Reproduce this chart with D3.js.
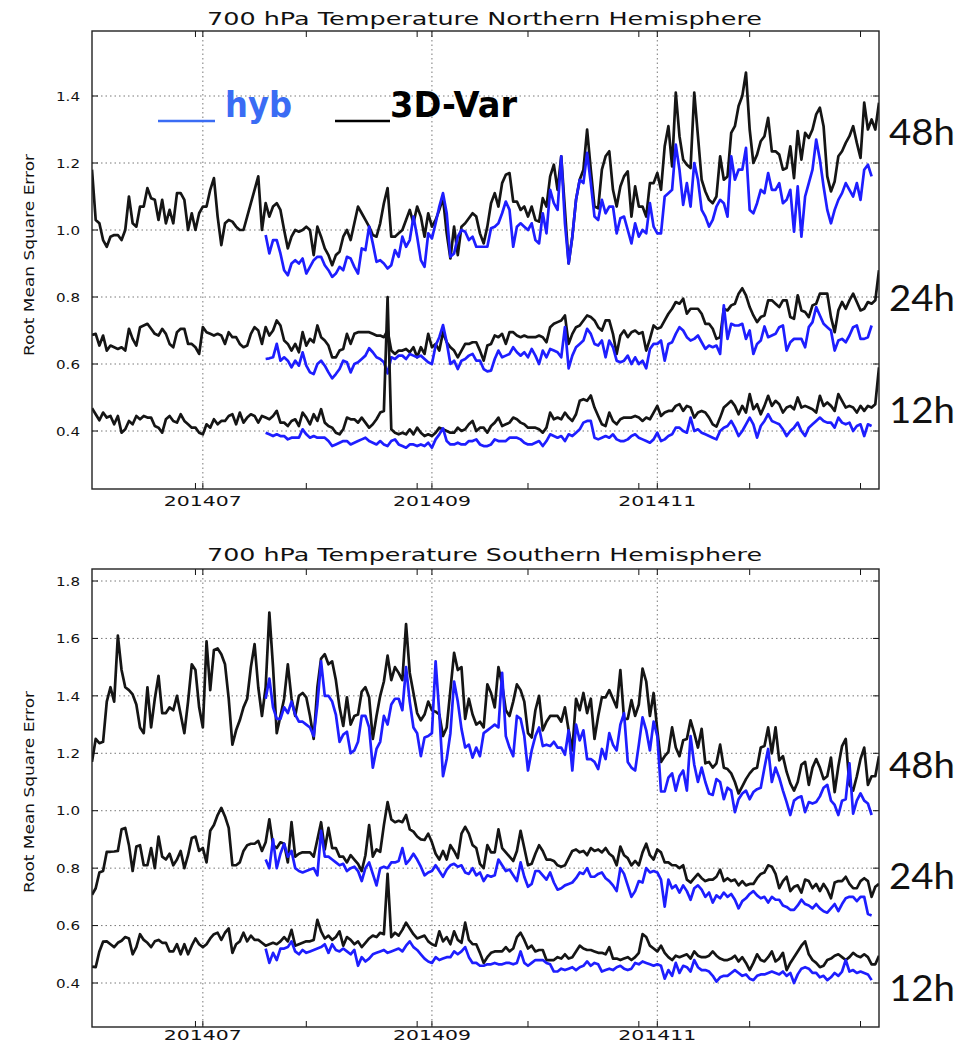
<!DOCTYPE html>
<html><head><meta charset="utf-8">
<script src="https://cdn.jsdelivr.net/npm/d3@7"></script>
<style>body{margin:0;background:#fff}svg{display:block}</style>
</head><body>
<svg id="c" width="957" height="1044"></svg>
<script>
// ---------------- DATA ----------------
const startDate = "2014-06-01";   // first day of 3D-Var series
const hybStartDate = "2014-07-18"; // first day of hyb series
const xTickDates = ["2014-07-01","2014-09-01","2014-11-01"];
const xTickLabels = ["201407","201409","201411"];
const minorTickStart = "2014-06-29", minorTickStepDays = 30, minorTickCount = 7;
const nhYTicks = [0.4,0.6,0.8,1.0,1.2,1.4];
const shYTicks = [0.4,0.6,0.8,1.0,1.2,1.4,1.6,1.8];
const leadLabels = ["48h","24h","12h"];

const nh48_3dvar = [
1.18,1.03,1.02,0.97,0.95,0.98,0.985,0.985,0.97,1.00,
1.10,1.02,1.01,1.07,1.07,1.125,1.095,1.09,1.03,1.09,
1.02,1.06,1.02,1.11,1.11,1.09,1.00,1.05,1.00,1.05,
1.07,1.07,1.12,1.155,1.04,0.955,1.02,1.03,1.025,1.01,
1.00,1.00,1.04,1.08,1.12,1.16,1.00,1.08,1.04,1.07,
1.08,1.06,1.00,0.945,0.98,1.00,0.995,1.0,1.01,1.0,
0.925,1.01,0.98,0.945,0.925,0.895,0.925,0.935,0.98,1.0,
0.97,1.02,1.07,1.05,1.03,1.01,0.985,0.98,1.02,1.08,
1.125,0.98,0.98,0.99,1.0,1.03,1.06,1.02,1.07,1.04,
0.98,1.05,1.01,1.03,1.06,1.095,0.99,0.915,1.01,0.925,
1.01,1.02,1.035,1.05,1.04,0.99,0.96,1.01,1.08,1.11,
1.07,1.14,1.165,1.17,1.085,1.085,1.06,1.07,1.04,1.07,
1.03,1.025,1.095,1.07,1.16,1.195,1.12,1.22,1.06,0.90,
0.98,1.09,1.15,1.18,1.30,1.18,1.07,1.065,1.18,1.22,
1.235,1.12,1.07,1.13,1.16,1.175,1.04,1.13,1.07,1.07,
1.04,1.14,1.14,1.17,1.12,1.25,1.31,1.19,1.41,1.28,
1.21,1.195,1.185,1.41,1.28,1.15,1.115,1.09,1.08,1.10,
1.22,1.15,1.16,1.29,1.31,1.37,1.40,1.47,1.30,1.20,
1.225,1.265,1.28,1.335,1.235,1.235,1.225,1.18,1.185,1.25,
1.155,1.295,1.21,1.29,1.275,1.3,1.345,1.365,1.31,1.16,
1.115,1.145,1.22,1.235,1.26,1.28,1.31,1.26,1.215,1.38,
1.30,1.33,1.30,1.38];
const nh48_hyb = [
0.985,0.93,0.97,
0.97,0.93,0.88,0.865,0.9,0.91,0.9,0.915,0.87,0.89,
0.91,0.92,0.92,0.895,0.88,0.86,0.87,0.89,0.88,0.92,
0.915,0.89,0.87,0.945,0.94,1.01,0.96,0.905,0.91,0.9,
0.885,0.895,0.94,0.92,0.98,0.95,0.97,1.04,0.98,0.91,
0.89,0.99,0.975,1.02,1.07,1.11,1.05,0.92,0.93,0.98,
1.0,0.995,0.97,0.98,0.95,0.95,0.95,0.95,1.005,1.01,
1.02,1.05,1.085,1.06,0.95,1.01,1.02,1.01,1.0,1.02,
0.97,0.96,1.05,0.99,1.12,1.08,1.06,1.22,1.02,0.90,
0.98,1.09,1.15,1.14,1.23,1.14,1.04,1.03,1.09,1.05,
1.07,1.07,0.99,1.035,1.04,1.0,0.96,1.02,0.98,1.0,
0.99,1.08,1.01,0.99,0.99,1.1,1.11,1.12,1.255,1.18,
1.075,1.14,1.07,1.2,1.15,1.06,1.04,1.01,1.03,1.07,
1.09,1.08,1.04,1.22,1.15,1.18,1.18,1.245,1.06,1.05,
1.08,1.12,1.11,1.17,1.12,1.12,1.14,1.08,1.09,1.12,
0.995,1.13,0.98,1.1,1.14,1.18,1.27,1.21,1.13,1.06,
1.02,1.06,1.09,1.11,1.14,1.12,1.10,1.14,1.09,1.18,
1.195,1.16];
const nh24_3dvar = [
0.687,0.69,0.655,0.685,0.64,0.655,0.65,0.645,0.65,0.64,
0.705,0.675,0.655,0.71,0.715,0.72,0.705,0.69,0.685,0.705,
0.69,0.66,0.65,0.695,0.705,0.705,0.66,0.66,0.65,0.63,
0.71,0.695,0.69,0.685,0.69,0.685,0.66,0.695,0.68,0.68,
0.66,0.65,0.655,0.69,0.71,0.70,0.66,0.71,0.685,0.70,
0.73,0.715,0.67,0.66,0.64,0.66,0.635,0.695,0.655,0.675,
0.665,0.715,0.68,0.67,0.655,0.62,0.62,0.64,0.645,0.69,
0.66,0.69,0.695,0.695,0.695,0.695,0.69,0.685,0.685,0.68,
0.70,0.64,0.63,0.64,0.64,0.645,0.635,0.65,0.62,0.65,
0.63,0.69,0.65,0.66,0.64,0.695,0.665,0.65,0.64,0.62,
0.64,0.66,0.66,0.665,0.665,0.64,0.61,0.655,0.66,0.685,
0.68,0.69,0.66,0.695,0.695,0.685,0.68,0.685,0.68,0.68,
0.68,0.685,0.68,0.665,0.71,0.72,0.725,0.73,0.745,0.66,
0.69,0.71,0.715,0.73,0.745,0.74,0.73,0.71,0.70,0.73,
0.73,0.69,0.63,0.685,0.70,0.68,0.695,0.70,0.69,0.695,
0.64,0.675,0.715,0.705,0.71,0.73,0.75,0.765,0.785,0.78,
0.795,0.75,0.765,0.765,0.765,0.75,0.72,0.72,0.705,0.675,
0.68,0.765,0.76,0.775,0.78,0.81,0.826,0.805,0.77,0.745,
0.725,0.74,0.745,0.79,0.79,0.78,0.77,0.79,0.79,0.74,
0.735,0.805,0.76,0.755,0.74,0.775,0.78,0.81,0.81,0.81,
0.74,0.695,0.76,0.785,0.765,0.79,0.81,0.785,0.76,0.765,
0.785,0.78,0.79,0.88];
const nh24_hyb = [
0.615,0.617,0.62,
0.66,0.61,0.62,0.61,0.59,0.61,0.595,0.635,0.595,0.575,
0.57,0.6,0.61,0.595,0.575,0.557,0.57,0.585,0.61,0.605,
0.575,0.6,0.605,0.615,0.625,0.647,0.635,0.62,0.615,0.605,
0.572,0.62,0.615,0.625,0.625,0.615,0.63,0.625,0.62,0.625,
0.615,0.605,0.6,0.655,0.68,0.716,0.665,0.6,0.61,0.585,
0.61,0.615,0.625,0.63,0.61,0.61,0.585,0.578,0.58,0.615,
0.64,0.62,0.625,0.63,0.65,0.635,0.625,0.635,0.62,0.645,
0.625,0.60,0.64,0.62,0.645,0.64,0.635,0.62,0.71,0.587,
0.625,0.65,0.66,0.67,0.705,0.69,0.66,0.655,0.67,0.62,
0.67,0.65,0.61,0.605,0.61,0.625,0.60,0.62,0.60,0.61,
0.587,0.645,0.66,0.66,0.67,0.61,0.66,0.665,0.69,0.71,
0.70,0.68,0.67,0.675,0.685,0.665,0.645,0.655,0.65,0.655,
0.63,0.775,0.675,0.72,0.715,0.715,0.72,0.675,0.70,0.63,
0.66,0.67,0.712,0.68,0.685,0.69,0.71,0.715,0.64,0.665,
0.675,0.675,0.675,0.65,0.71,0.725,0.77,0.745,0.72,0.71,
0.70,0.64,0.67,0.675,0.665,0.685,0.71,0.715,0.675,0.675,
0.68,0.715];
const nh12_3dvar = [
0.468,0.45,0.432,0.455,0.44,0.445,0.42,0.445,0.395,0.405,
0.43,0.42,0.445,0.435,0.445,0.44,0.44,0.415,0.41,0.395,
0.435,0.445,0.43,0.425,0.45,0.43,0.42,0.41,0.41,0.395,
0.39,0.42,0.41,0.435,0.42,0.43,0.43,0.445,0.45,0.42,
0.455,0.425,0.44,0.45,0.445,0.425,0.445,0.44,0.435,0.445,
0.46,0.425,0.425,0.415,0.43,0.435,0.415,0.455,0.44,0.42,
0.45,0.43,0.465,0.425,0.415,0.41,0.395,0.39,0.405,0.44,
0.435,0.435,0.425,0.44,0.425,0.41,0.42,0.435,0.455,0.46,
0.80,0.405,0.395,0.39,0.395,0.39,0.405,0.39,0.41,0.395,
0.385,0.39,0.385,0.395,0.41,0.405,0.40,0.395,0.395,0.41,
0.40,0.405,0.42,0.43,0.40,0.41,0.41,0.395,0.415,0.425,
0.44,0.415,0.42,0.425,0.44,0.435,0.425,0.42,0.41,0.41,
0.41,0.405,0.395,0.41,0.455,0.435,0.44,0.435,0.455,0.44,
0.43,0.45,0.49,0.495,0.49,0.506,0.47,0.445,0.42,0.415,
0.455,0.43,0.42,0.435,0.44,0.44,0.44,0.445,0.44,0.43,
0.44,0.435,0.455,0.475,0.445,0.455,0.46,0.46,0.475,0.48,
0.46,0.475,0.47,0.44,0.455,0.46,0.455,0.44,0.42,0.413,
0.44,0.47,0.48,0.49,0.475,0.45,0.475,0.455,0.51,0.465,
0.48,0.45,0.475,0.505,0.475,0.49,0.48,0.455,0.47,0.475,
0.465,0.50,0.47,0.475,0.47,0.465,0.455,0.505,0.475,0.485,
0.475,0.46,0.51,0.49,0.47,0.475,0.47,0.455,0.475,0.46,
0.475,0.47,0.48,0.59];
const nh12_hyb = [
0.395,0.39,0.385,
0.39,0.385,0.385,0.375,0.38,0.38,0.38,0.405,0.39,0.38,
0.385,0.38,0.38,0.38,0.37,0.355,0.36,0.365,0.37,0.37,
0.36,0.365,0.37,0.375,0.38,0.37,0.365,0.36,0.37,0.36,
0.355,0.37,0.375,0.36,0.355,0.35,0.36,0.36,0.355,0.36,
0.355,0.365,0.35,0.375,0.39,0.408,0.37,0.36,0.36,0.365,
0.36,0.36,0.37,0.37,0.375,0.36,0.355,0.355,0.36,0.375,
0.37,0.37,0.37,0.38,0.38,0.38,0.375,0.365,0.36,0.36,
0.365,0.37,0.355,0.37,0.39,0.385,0.38,0.385,0.37,0.39,
0.385,0.395,0.405,0.425,0.43,0.43,0.38,0.375,0.38,0.385,
0.38,0.39,0.375,0.37,0.37,0.375,0.385,0.39,0.38,0.375,
0.37,0.365,0.375,0.395,0.37,0.375,0.385,0.39,0.41,0.41,
0.40,0.395,0.44,0.40,0.405,0.395,0.39,0.385,0.38,0.375,
0.40,0.41,0.415,0.43,0.41,0.385,0.40,0.42,0.44,0.42,
0.38,0.415,0.43,0.45,0.43,0.425,0.42,0.405,0.385,0.40,
0.41,0.425,0.40,0.385,0.41,0.42,0.43,0.44,0.43,0.425,
0.425,0.41,0.44,0.425,0.42,0.425,0.40,0.415,0.42,0.385,
0.42,0.415];

const sh48_3dvar = [
1.17,1.25,1.235,1.24,1.38,1.43,1.38,1.61,1.49,1.43,
1.42,1.405,1.37,1.29,1.27,1.43,1.29,1.39,1.47,1.34,
1.34,1.36,1.35,1.40,1.335,1.27,1.38,1.51,1.49,1.36,
1.29,1.59,1.42,1.56,1.565,1.545,1.51,1.39,1.23,1.28,
1.315,1.36,1.39,1.50,1.58,1.43,1.33,1.43,1.69,1.50,
1.27,1.33,1.39,1.51,1.39,1.33,1.40,1.41,1.395,1.33,
1.25,1.43,1.53,1.545,1.51,1.52,1.455,1.36,1.295,1.395,
1.30,1.33,1.335,1.415,1.43,1.395,1.25,1.33,1.40,1.45,
1.54,1.455,1.50,1.48,1.455,1.65,1.48,1.41,1.34,1.315,
1.335,1.38,1.35,1.345,1.335,1.26,1.29,1.42,1.55,1.49,
1.50,1.32,1.39,1.335,1.30,1.31,1.29,1.44,1.41,1.36,
1.50,1.44,1.35,1.33,1.38,1.44,1.42,1.38,1.27,1.255,
1.35,1.40,1.28,1.31,1.33,1.33,1.33,1.31,1.36,1.28,
1.21,1.39,1.35,1.41,1.34,1.39,1.25,1.33,1.395,1.395,
1.42,1.39,1.36,1.49,1.32,1.32,1.385,1.33,1.37,1.495,
1.45,1.33,1.41,1.28,1.17,1.19,1.205,1.29,1.22,1.19,
1.245,1.25,1.315,1.27,1.22,1.285,1.165,1.17,1.15,1.165,
1.23,1.15,1.145,1.13,1.10,1.06,1.085,1.11,1.13,1.145,
1.15,1.22,1.225,1.29,1.20,1.29,1.175,1.19,1.135,1.095,
1.07,1.10,1.16,1.17,1.09,1.15,1.18,1.15,1.11,1.12,
1.185,1.065,1.155,1.225,1.25,1.09,1.07,1.12,1.18,1.22,
1.09,1.12,1.12,1.19];
const sh48_hyb = [
1.39,1.46,1.36,
1.32,1.32,1.36,1.34,1.38,1.335,1.31,1.31,1.30,1.29,
1.26,1.37,1.52,1.40,1.40,1.38,1.335,1.24,1.265,1.275,
1.20,1.21,1.24,1.33,1.33,1.29,1.15,1.215,1.24,1.33,
1.30,1.37,1.39,1.39,1.35,1.50,1.38,1.29,1.27,1.19,
1.255,1.26,1.27,1.52,1.34,1.12,1.18,1.27,1.45,1.38,
1.285,1.22,1.23,1.185,1.22,1.19,1.27,1.28,1.29,1.30,
1.29,1.48,1.26,1.22,1.19,1.33,1.32,1.26,1.14,1.21,
1.26,1.29,1.225,1.23,1.225,1.24,1.22,1.22,1.195,1.28,
1.14,1.30,1.245,1.28,1.18,1.18,1.17,1.145,1.215,1.18,
1.27,1.23,1.21,1.30,1.34,1.17,1.15,1.14,1.23,1.325,
1.28,1.21,1.31,1.26,1.067,1.067,1.115,1.13,1.07,1.12,
1.14,1.07,1.26,1.16,1.10,1.15,1.10,1.06,1.055,1.11,
1.10,1.04,1.08,1.07,0.995,1.04,1.06,1.07,1.04,1.065,
1.075,1.08,1.15,1.215,1.10,1.15,1.115,1.07,1.03,0.985,
1.035,1.045,1.05,0.995,1.03,1.025,1.03,1.05,1.08,1.09,
1.035,1.02,0.985,1.035,1.04,1.165,0.99,1.035,1.06,1.035,
1.025,0.985];
const sh24_3dvar = [
0.707,0.73,0.785,0.79,0.857,0.857,0.858,0.86,0.935,0.94,
0.88,0.79,0.875,0.88,0.81,0.81,0.87,0.80,0.91,0.84,
0.83,0.85,0.81,0.83,0.86,0.80,0.845,0.905,0.91,0.86,
0.87,0.82,0.93,0.95,0.985,1.01,0.98,0.94,0.81,0.81,
0.82,0.86,0.88,0.885,0.885,0.895,0.86,0.89,0.97,0.88,
0.87,0.89,0.885,0.82,0.96,0.84,0.85,0.855,0.855,0.855,
0.84,0.90,0.96,0.865,0.94,0.87,0.87,0.84,0.84,0.82,
0.845,0.83,0.815,0.79,0.845,0.95,0.84,0.865,0.857,0.95,
1.03,0.97,0.96,0.965,0.96,0.985,0.935,0.927,0.91,0.90,
0.898,0.92,0.89,0.85,0.83,0.86,0.83,0.88,0.86,0.835,
0.92,0.944,0.92,0.88,0.87,0.815,0.80,0.88,0.855,0.855,
0.935,0.87,0.855,0.84,0.825,0.86,0.93,0.87,0.81,0.815,
0.85,0.88,0.86,0.83,0.83,0.825,0.81,0.805,0.81,0.835,
0.86,0.865,0.855,0.86,0.845,0.87,0.86,0.865,0.855,0.87,
0.85,0.84,0.81,0.875,0.845,0.835,0.81,0.825,0.81,0.855,
0.885,0.845,0.83,0.865,0.855,0.82,0.82,0.81,0.81,0.80,
0.81,0.76,0.75,0.765,0.78,0.765,0.755,0.76,0.76,0.77,
0.795,0.755,0.765,0.755,0.76,0.74,0.755,0.74,0.745,0.745,
0.765,0.78,0.785,0.81,0.805,0.78,0.73,0.755,0.77,0.72,
0.735,0.74,0.715,0.76,0.755,0.73,0.745,0.72,0.745,0.725,
0.695,0.75,0.755,0.755,0.77,0.745,0.73,0.73,0.755,0.765,
0.755,0.70,0.735,0.745];
const sh24_hyb = [
0.83,0.80,0.90,
0.80,0.85,0.885,0.84,0.86,0.80,0.79,0.785,0.79,0.795,
0.80,0.775,0.93,0.84,0.84,0.83,0.82,0.81,0.815,0.79,
0.80,0.805,0.79,0.755,0.80,0.82,0.78,0.74,0.80,0.805,
0.80,0.82,0.82,0.825,0.87,0.815,0.83,0.85,0.83,0.805,
0.775,0.785,0.79,0.81,0.79,0.77,0.795,0.81,0.815,0.805,
0.81,0.785,0.78,0.80,0.775,0.785,0.755,0.775,0.77,0.775,
0.83,0.81,0.79,0.795,0.775,0.755,0.82,0.77,0.735,0.745,
0.79,0.79,0.775,0.76,0.785,0.75,0.725,0.73,0.74,0.745,
0.75,0.765,0.785,0.78,0.8,0.77,0.77,0.78,0.785,0.765,
0.755,0.74,0.72,0.80,0.78,0.74,0.70,0.72,0.755,0.75,
0.8,0.785,0.79,0.785,0.76,0.666,0.76,0.73,0.74,0.715,
0.74,0.72,0.69,0.73,0.74,0.725,0.70,0.715,0.68,0.705,
0.695,0.715,0.70,0.71,0.69,0.66,0.685,0.695,0.71,0.72,
0.705,0.695,0.70,0.68,0.70,0.69,0.69,0.67,0.665,0.655,
0.655,0.67,0.69,0.675,0.67,0.66,0.675,0.66,0.65,0.645,
0.66,0.675,0.65,0.675,0.695,0.70,0.70,0.685,0.70,0.70,
0.64,0.635];
const sh12_3dvar = [
0.457,0.455,0.51,0.544,0.545,0.535,0.525,0.54,0.547,0.56,
0.555,0.50,0.525,0.57,0.55,0.54,0.525,0.545,0.55,0.54,
0.54,0.51,0.51,0.535,0.50,0.535,0.50,0.53,0.555,0.535,
0.525,0.535,0.555,0.57,0.575,0.55,0.575,0.59,0.505,0.535,
0.545,0.575,0.545,0.565,0.55,0.55,0.54,0.53,0.535,0.54,
0.535,0.545,0.56,0.545,0.585,0.53,0.535,0.54,0.545,0.545,
0.55,0.62,0.58,0.555,0.565,0.55,0.56,0.58,0.53,0.56,
0.55,0.535,0.545,0.525,0.54,0.555,0.565,0.56,0.575,0.57,
0.78,0.56,0.575,0.565,0.585,0.61,0.59,0.57,0.555,0.56,
0.565,0.545,0.535,0.53,0.58,0.545,0.56,0.535,0.58,0.55,
0.54,0.61,0.55,0.535,0.535,0.505,0.47,0.49,0.505,0.51,
0.51,0.51,0.525,0.51,0.52,0.56,0.575,0.55,0.52,0.53,
0.51,0.515,0.515,0.48,0.48,0.48,0.49,0.485,0.50,0.485,
0.49,0.51,0.53,0.52,0.515,0.515,0.51,0.505,0.505,0.50,
0.525,0.485,0.485,0.48,0.485,0.49,0.48,0.49,0.505,0.57,
0.56,0.53,0.52,0.51,0.53,0.505,0.49,0.48,0.495,0.49,
0.495,0.50,0.485,0.51,0.495,0.49,0.49,0.495,0.51,0.495,
0.485,0.48,0.48,0.485,0.495,0.475,0.49,0.47,0.445,0.47,
0.50,0.48,0.475,0.49,0.51,0.475,0.485,0.505,0.445,0.47,
0.49,0.51,0.53,0.545,0.50,0.48,0.47,0.455,0.46,0.48,
0.485,0.495,0.50,0.49,0.48,0.49,0.505,0.495,0.49,0.50,
0.49,0.465,0.465,0.495];
const sh12_hyb = [
0.52,0.47,0.505,
0.48,0.52,0.52,0.525,0.545,0.51,0.50,0.515,0.505,0.51,
0.515,0.52,0.525,0.535,0.505,0.535,0.515,0.51,0.52,0.51,
0.50,0.515,0.46,0.49,0.475,0.485,0.50,0.505,0.51,0.515,
0.505,0.51,0.515,0.52,0.51,0.53,0.545,0.525,0.515,0.50,
0.485,0.475,0.47,0.49,0.48,0.485,0.49,0.49,0.51,0.50,
0.51,0.525,0.49,0.47,0.47,0.46,0.46,0.465,0.465,0.47,
0.465,0.465,0.47,0.47,0.465,0.47,0.51,0.47,0.46,0.47,
0.48,0.48,0.48,0.47,0.465,0.44,0.44,0.45,0.445,0.45,
0.455,0.445,0.455,0.46,0.475,0.46,0.47,0.465,0.44,0.445,
0.45,0.445,0.455,0.46,0.45,0.445,0.45,0.47,0.465,0.475,
0.47,0.465,0.46,0.465,0.46,0.415,0.445,0.425,0.47,0.435,
0.46,0.455,0.44,0.48,0.455,0.445,0.445,0.44,0.425,0.405,
0.42,0.425,0.425,0.435,0.445,0.435,0.425,0.43,0.415,0.41,
0.425,0.43,0.43,0.435,0.44,0.435,0.43,0.44,0.425,0.435,
0.40,0.43,0.45,0.455,0.45,0.435,0.435,0.42,0.425,0.41,
0.42,0.435,0.425,0.44,0.48,0.44,0.445,0.435,0.44,0.435,
0.43,0.41];

// ---------------- DRAWING ----------------
const svg = d3.select("#c");
const parse = d3.utcParse("%Y-%m-%d");
const x = d3.scaleUtc().domain([parse("2014-06-01"), parse("2014-12-31")]).range([92, 879]);
const dayOf = (s, i) => d3.utcDay.offset(parse(s), i);

const BLACK = "#151515", BLUE = "#1e1eff";
const FONT = "'DejaVu Sans', sans-serif";
const LEAD_FONT = "Lato, 'Open Sans', sans-serif";

const panels = [
  { title: "700 hPa Temperature Northern Hemisphere", titleY: 25, top: 31, bottom: 489,
    yDomain: [0.4, 1.4], yRange: [431, 96], yTicks: nhYTicks, xLabelY: 506, ylabelCY: 255,
    series: [[nh48_3dvar, nh48_hyb], [nh24_3dvar, nh24_hyb], [nh12_3dvar, nh12_hyb]],
    leadY: [132, 298, 410], legend: true },
  { title: "700 hPa Temperature Southern Hemisphere", titleY: 561, top: 569, bottom: 1027,
    yDomain: [0.4, 1.8], yRange: [983, 581], yTicks: shYTicks, xLabelY: 1040, ylabelCY: 792,
    series: [[sh48_3dvar, sh48_hyb], [sh24_3dvar, sh24_hyb], [sh12_3dvar, sh12_hyb]],
    leadY: [765, 876, 988], legend: false }
];

panels.forEach((p, pi) => {
  const y = d3.scaleLinear().domain(p.yDomain).range(p.yRange);
  const L = 92, R = 879;
  const g = svg.append("g");
  const clipId = "clip" + pi;
  svg.append("clipPath").attr("id", clipId).append("rect")
    .attr("x", L).attr("y", p.top).attr("width", R - L).attr("height", p.bottom - p.top);

  // title
  g.append("text").attr("x", (207 + 762) / 2).attr("y", p.titleY).attr("text-anchor", "middle")
    .attr("font-family", FONT).attr("font-size", 18).attr("fill", "#111")
    .attr("textLength", 555).attr("lengthAdjust", "spacingAndGlyphs").text(p.title);

  // gridlines
  const grid = g.append("g").attr("stroke", "#555").attr("stroke-width", 0.8)
    .attr("stroke-dasharray", "1.5,3");
  p.yTicks.forEach(t => grid.append("line").attr("x1", L).attr("x2", R)
    .attr("y1", y(t)).attr("y2", y(t)));
  xTickDates.forEach(t => grid.append("line").attr("x1", x(parse(t))).attr("x2", x(parse(t)))
    .attr("y1", p.top).attr("y2", p.bottom));

  // y axis labels (left) + inside ticks on both sides
  const yAxisL = d3.axisLeft(y).tickValues(p.yTicks).tickSize(0).tickPadding(12)
    .tickFormat(d3.format(".1f"));
  const ya = g.append("g").attr("transform", `translate(${L},0)`).call(yAxisL);
  ya.select(".domain").remove();
  ya.selectAll("text").attr("font-family", FONT).attr("font-size", 13).attr("fill", "#111")
    .attr("textLength", 24).attr("lengthAdjust", "spacingAndGlyphs");
  const tk = g.append("g").attr("stroke", "#111").attr("stroke-width", 1);
  p.yTicks.forEach(t => {
    tk.append("line").attr("x1", L).attr("x2", L + 6).attr("y1", y(t)).attr("y2", y(t));
    tk.append("line").attr("x1", R).attr("x2", R - 6).attr("y1", y(t)).attr("y2", y(t));
  });
  // x ticks major + minor (bottom + top)
  const minor = d3.range(minorTickCount).map(k => d3.utcDay.offset(parse(minorTickStart), k * minorTickStepDays));
  xTickDates.map(parse).concat(minor).forEach(d => {
    const xx = x(d);
    tk.append("line").attr("x1", xx).attr("x2", xx).attr("y1", p.bottom).attr("y2", p.bottom - 6);
    tk.append("line").attr("x1", xx).attr("x2", xx).attr("y1", p.top).attr("y2", p.top + 6);
  });
  xTickDates.forEach((t, i) => {
    g.append("text").attr("x", x(parse(t))).attr("y", p.xLabelY).attr("text-anchor", "middle")
      .attr("font-family", FONT).attr("font-size", 14).attr("fill", "#111")
      .attr("textLength", 78).attr("lengthAdjust", "spacingAndGlyphs").text(xTickLabels[i]);
  });

  // y label
  g.append("text").attr("transform", `translate(34,${p.ylabelCY}) rotate(-90)`)
    .attr("text-anchor", "middle").attr("font-family", FONT).attr("font-size", 14.5)
    .attr("fill", "#111").attr("textLength", 202).attr("lengthAdjust", "spacingAndGlyphs")
    .text("Root Mean Square Error");

  // data lines
  const lines = g.append("g").attr("clip-path", `url(#${clipId})`);
  p.series.forEach(([blk, hyb]) => {
    const lb = d3.line().x((v, i) => x(dayOf(startDate, i))).y(v => y(v));
    const lh = d3.line().x((v, i) => x(dayOf(hybStartDate, i))).y(v => y(v));
    lines.append("path").attr("d", lb(blk)).attr("fill", "none").attr("stroke", BLACK)
      .attr("stroke-width", 2.7).attr("stroke-linejoin", "round");
    lines.append("path").attr("d", lh(hyb)).attr("fill", "none").attr("stroke", BLUE)
      .attr("stroke-width", 2.7).attr("stroke-linejoin", "round");
  });

  // frame
  g.append("rect").attr("x", L).attr("y", p.top).attr("width", R - L).attr("height", p.bottom - p.top)
    .attr("fill", "none").attr("stroke", "#222").attr("stroke-width", 1.4);

  // lead labels on the right
  leadLabels.forEach((t, i) => {
    g.append("text").attr("x", 889).attr("y", p.leadY[i] + 13).attr("font-family", LEAD_FONT)
      .attr("font-size", 36).attr("fill", "#111").attr("textLength", 66)
      .attr("lengthAdjust", "spacingAndGlyphs").text(t);
  });

  if (p.legend) {
    g.append("line").attr("x1", 158).attr("x2", 215).attr("y1", 121).attr("y2", 121)
      .attr("stroke", "#3a6cf4").attr("stroke-width", 2.5);
    g.append("text").attr("x", 225).attr("y", 117).attr("font-family", FONT).attr("font-weight", "bold")
      .attr("font-size", 36).attr("fill", "#3a6cf4").attr("textLength", 67)
      .attr("lengthAdjust", "spacingAndGlyphs").text("hyb");
    g.append("line").attr("x1", 335).attr("x2", 390).attr("y1", 121).attr("y2", 121)
      .attr("stroke", "#000").attr("stroke-width", 2.5);
    g.append("text").attr("x", 390).attr("y", 117).attr("font-family", FONT).attr("font-weight", "bold")
      .attr("font-size", 36).attr("fill", "#000").attr("textLength", 127)
      .attr("lengthAdjust", "spacingAndGlyphs").text("3D-Var");
  }
});
</script>
</body></html>
